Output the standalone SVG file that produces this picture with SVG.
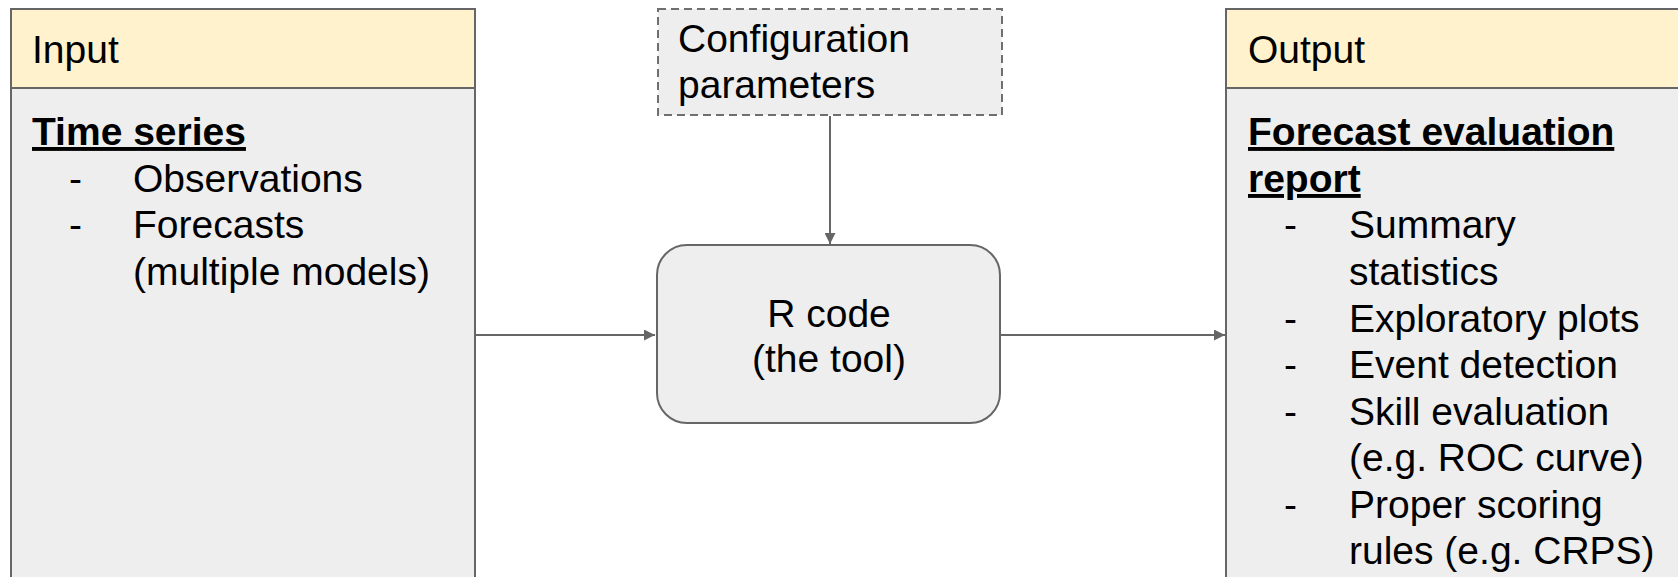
<svg xmlns="http://www.w3.org/2000/svg" width="1678" height="577" viewBox="0 0 1678 577">
<style>
text{font-family:"Liberation Sans",Arial,sans-serif;font-size:39px;fill:#000}
.b{font-weight:bold;text-decoration:underline}
.hdr{fill:#fff2cc;stroke:#666;stroke-width:2}
.body{fill:#eeeeee;stroke:#666;stroke-width:2}
.con{stroke:#666;stroke-width:2;fill:none}
.mid{text-anchor:middle}
</style>
<defs>
<marker id="ah" viewBox="0 0 10 10" refX="10" refY="5" markerWidth="5.5" markerHeight="5.5" orient="auto" markerUnits="strokeWidth">
<path d="M0,0 L10,5 L0,10 z" fill="#666"/>
</marker>
</defs>
<rect width="1678" height="577" fill="#fff"/>
<g id="connectors">
<line class="con" x1="476" y1="335" x2="655" y2="335" marker-end="url(#ah)"/>
<line class="con" x1="1001" y1="335" x2="1225" y2="335" marker-end="url(#ah)"/>
<line class="con" x1="830" y1="116" x2="830" y2="244" marker-end="url(#ah)"/>
</g>
<g id="input">
<rect class="body" x="11" y="88" width="464" height="500"/>
<rect class="hdr" x="11" y="9" width="464" height="79"/>
<text x="32" y="63">Input</text>
<text class="b" x="32" y="145">Time series</text>
<text x="69" y="192">-</text>
<text x="133" y="192">Observations</text>
<text x="69" y="238">-</text>
<text x="133" y="238">Forecasts</text>
<text x="133" y="285">(multiple models)</text>
</g>
<g id="config">
<rect x="658" y="9" width="344" height="106" fill="#eeeeee" stroke="#6f6f6f" stroke-width="2" stroke-dasharray="8,5"/>
<text x="678" y="52">Configuration</text>
<text x="678" y="98">parameters</text>
</g>
<g id="rcode">
<rect class="body" x="657" y="245" width="343" height="178" rx="30" ry="30"/>
<text class="mid" x="829" y="327">R code</text>
<text class="mid" x="829" y="372">(the tool)</text>
</g>
<g id="output">
<rect class="body" x="1226" y="88" width="470" height="500"/>
<rect class="hdr" x="1226" y="9" width="470" height="79"/>
<text x="1248" y="63">Output</text>
<text class="b" x="1248" y="145">Forecast evaluation</text>
<text class="b" x="1248" y="192">report</text>
<text x="1284" y="238">-</text>
<text x="1349" y="238">Summary</text>
<text x="1349" y="285">statistics</text>
<text x="1284" y="332">-</text>
<text x="1349" y="332">Exploratory plots</text>
<text x="1284" y="378">-</text>
<text x="1349" y="378">Event detection</text>
<text x="1284" y="425">-</text>
<text x="1349" y="425">Skill evaluation</text>
<text x="1349" y="471">(e.g. ROC curve)</text>
<text x="1284" y="518">-</text>
<text x="1349" y="518">Proper scoring</text>
<text x="1349" y="564">rules (e.g. CRPS)</text>
</g>
</svg>
